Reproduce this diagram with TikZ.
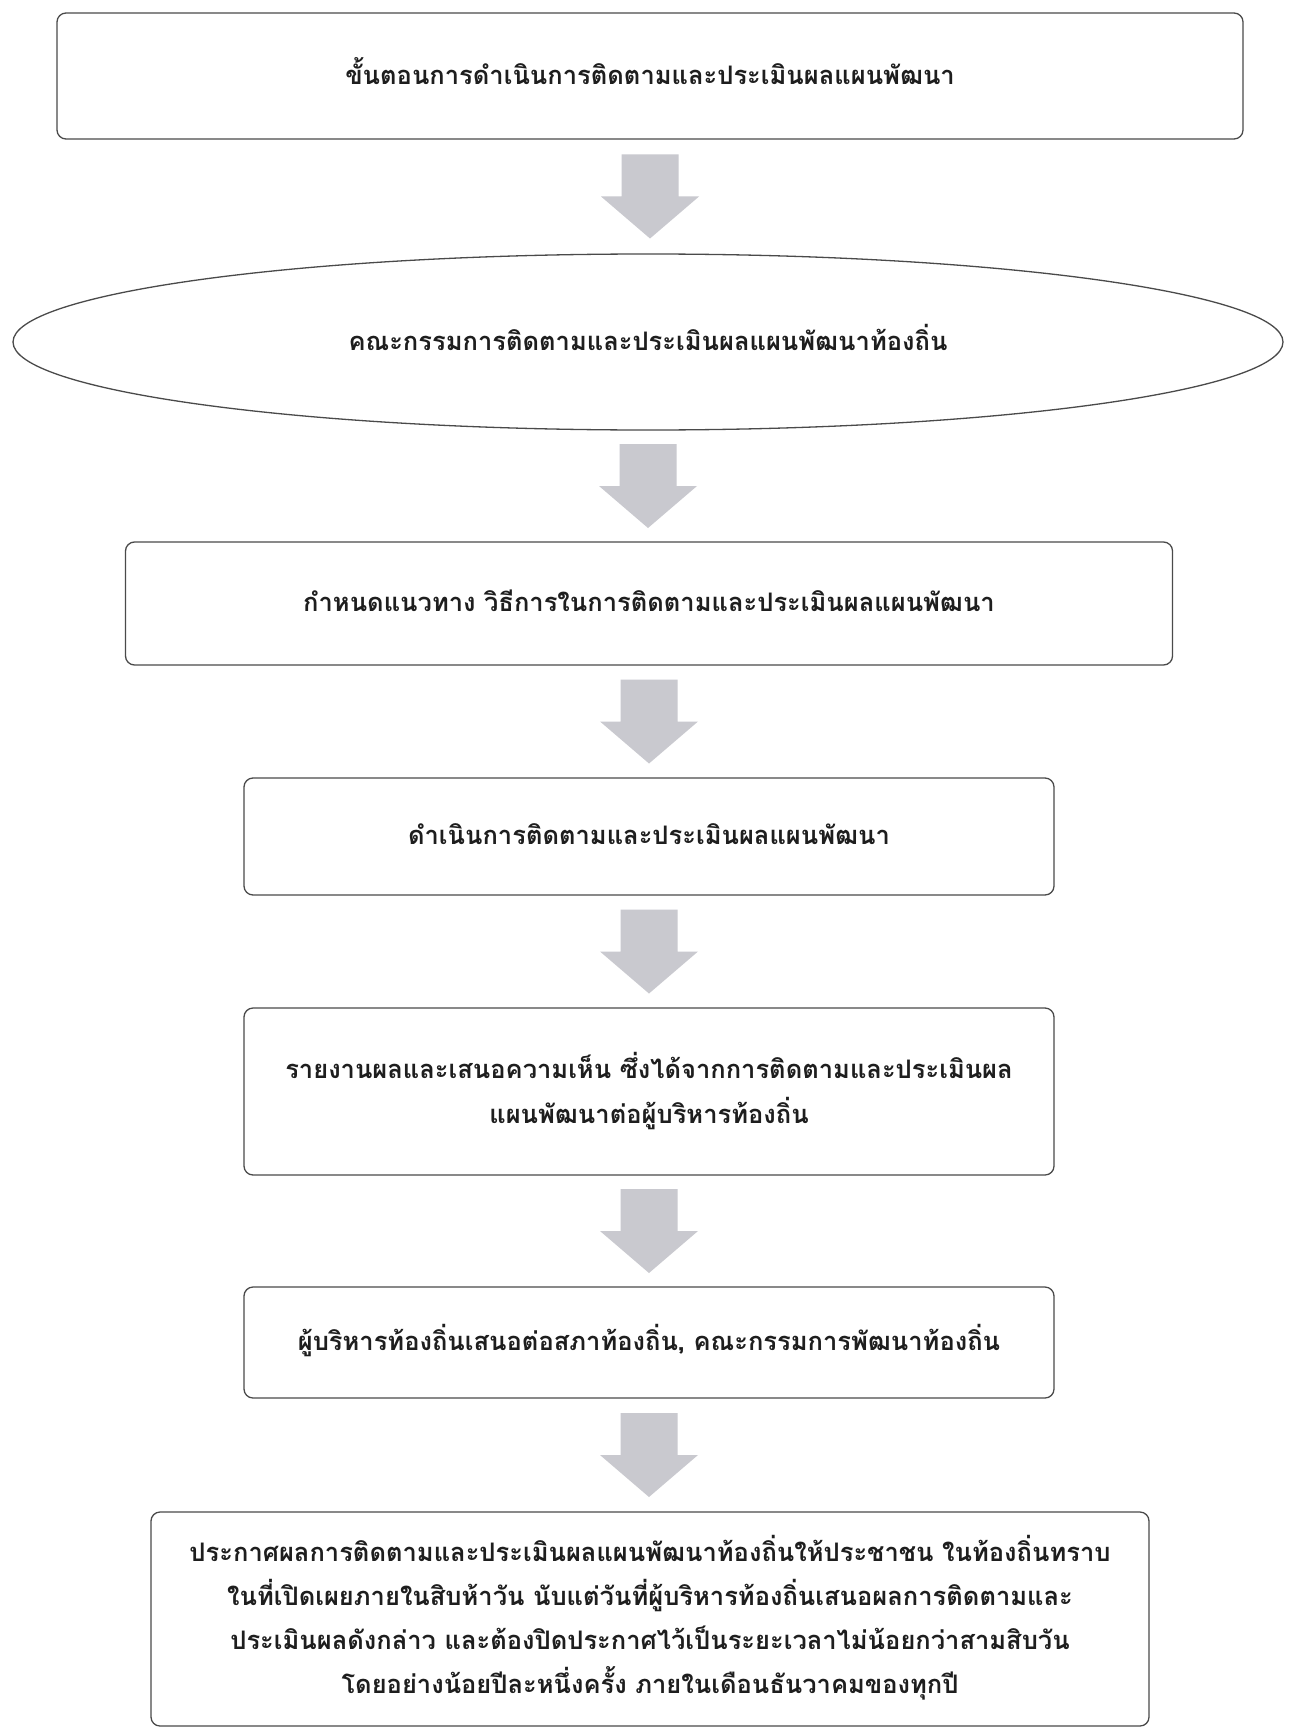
\documentclass[tikz,border=0pt]{standalone}
\usepackage{fontspec}
\newfontfamily\thaifont[Script=Thai]{Loma}
\usetikzlibrary{shapes.geometric,calc}
\definecolor{arrowgray}{HTML}{C9C9CF}
\definecolor{edgegray}{HTML}{4A4A4A}
\definecolor{txt}{HTML}{1E1E1E}
\newcommand\liftedtext[2][4pt]{\raisebox{#1}{\begin{tabular}{@{}c@{}}#2\end{tabular}}}
\tikzset{
  stepbox/.style={draw=edgegray, line width=1.3pt, rounded corners=9pt, fill=white,
    inner sep=0pt, align=center, text=txt,
    font=\thaifont\bfseries\fontsize{25.5}{41}\selectfont},
  ovalbox/.style={stepbox, ellipse, rounded corners=0pt},
}
\newcommand\blockarrow[2]{%
  \fill[arrowgray] let \p1=(#1.south), \p2=(#2.north), \n1={(\y1+\y2)/2} in
    (\x1-28.5pt,\n1+42pt) -- (\x1+28.5pt,\n1+42pt) -- (\x1+28.5pt,\n1) --
    (\x1+49pt,\n1) -- (\x1,\n1-42pt) -- (\x1-49pt,\n1) -- (\x1-28.5pt,\n1) -- cycle;}
\begin{document}
\begin{tikzpicture}[x=1pt,y=-1pt]
\useasboundingbox (0,0) rectangle (1294,1728);
\fill[white] (0,0) rectangle (1294,1728);
\node[stepbox, minimum width=1186pt, minimum height=126pt] (b1) at (650,76)
  {\liftedtext{ขั้นตอนการดำเนินการติดตามและประเมินผลแผนพัฒนา}};
\node[ovalbox, minimum width=1270pt, minimum height=176pt] (b2) at (648,342)
  {\liftedtext[11pt]{คณะกรรมการติดตามและประเมินผลแผนพัฒนาท้องถิ่น}};
\node[stepbox, minimum width=1047pt, minimum height=123pt] (b3) at (649,603.5)
  {\liftedtext{กำหนดแนวทาง วิธีการในการติดตามและประเมินผลแผนพัฒนา}};
\node[stepbox, minimum width=810pt, minimum height=117pt] (b4) at (649,836.5)
  {\liftedtext{ดำเนินการติดตามและประเมินผลแผนพัฒนา}};
\node[stepbox, minimum width=810pt, minimum height=167pt,
  font=\thaifont\bfseries\fontsize{25.5}{45}\selectfont] (b5) at (649,1091.5)
  {\liftedtext{รายงานผลและเสนอความเห็น ซึ่งได้จากการติดตามและประเมินผล\\แผนพัฒนาต่อผู้บริหารท้องถิ่น}};
\node[stepbox, minimum width=810pt, minimum height=111pt] (b6) at (649,1342.5)
  {\liftedtext{ผู้บริหารท้องถิ่นเสนอต่อสภาท้องถิ่น, คณะกรรมการพัฒนาท้องถิ่น}};
\node[stepbox, minimum width=998pt, minimum height=214pt,
  font=\thaifont\bfseries\fontsize{25.5}{44}\selectfont] (b7) at (650,1619)
  {\liftedtext[-6pt]{ประกาศผลการติดตามและประเมินผลแผนพัฒนาท้องถิ่นให้ประชาชน ในท้องถิ่นทราบ\\
   ในที่เปิดเผยภายในสิบห้าวัน นับแต่วันที่ผู้บริหารท้องถิ่นเสนอผลการติดตามและ\\
   ประเมินผลดังกล่าว และต้องปิดประกาศไว้เป็นระยะเวลาไม่น้อยกว่าสามสิบวัน\\
   โดยอย่างน้อยปีละหนึ่งครั้ง ภายในเดือนธันวาคมของทุกปี}};
\blockarrow{b1}{b2}
\blockarrow{b2}{b3}
\blockarrow{b3}{b4}
\blockarrow{b4}{b5}
\blockarrow{b5}{b6}
\blockarrow{b6}{b7}
\end{tikzpicture}
\end{document}
